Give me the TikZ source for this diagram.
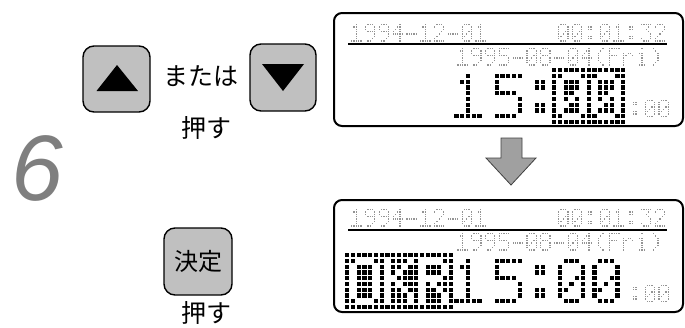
\documentclass[tikz,border=0pt]{standalone}
\usepackage{fontspec}
\setmainfont{Liberation Sans}
\newfontfamily\jp{Noto Sans CJK JP}
\definecolor{btngray}{HTML}{C0C0C0}
\definecolor{arrowgray}{HTML}{A0A0A0}
\definecolor{sixgray}{HTML}{7F7F7F}
\makeatletter
\def\dmdef#1#2{\expandafter\def\csname dmg@#1\endcsname{#2}}
\dmdef{0}{01110,10001,10001,10011,10101,11001,10001,01110}
\dmdef{1}{00100,01100,00100,00100,00100,00100,00100,11111}
\dmdef{2}{01110,10001,00001,00010,00100,01000,10000,11111}
\dmdef{3}{11111,00010,00100,00010,00001,00001,10001,01110}
\dmdef{4}{00010,00110,01010,10010,11111,00010,00010,00010}
\dmdef{5}{11111,10000,10000,11110,00001,00001,00001,11110}
\dmdef{8}{01110,10001,10001,01110,10001,10001,10001,01110}
\dmdef{9}{01110,10001,10001,01111,00001,00001,00010,01100}
\dmdef{hy}{00000,00000,00000,00000,11111,00000,00000,00000}
\dmdef{co}{00000,01100,01100,00000,00000,01100,01100,00000}
\dmdef{lp}{00010,00100,01000,01000,01000,01000,00100,00010}
\dmdef{rp}{01000,00100,00010,00010,00010,00010,00100,01000}
\dmdef{F}{11111,10000,10000,11110,10000,10000,10000,10000}
\dmdef{r}{00000,00000,10110,11001,10000,10000,10000,10000}
\dmdef{i}{00100,00000,01100,00100,00100,00100,00100,01110}
\dmdef{O}{01110,10001,10001,10001,10001,10001,10001,01110}
\dmdef{K}{10001,10010,10100,11000,10100,10010,10001,10001}
\dmdef{R}{11110,10001,10001,11110,10100,10010,10001,10001}
\dmdef{sp}{00000,00000,00000,00000,00000,00000,00000,00000}
% #1 x of col0 centre, #2 y of row0 centre, #3 pitch, #4 dot size, #5 colour, #6 list of glyphs
\newcommand\dmtext[6]{%
  \def\dm@x{#1}\def\dm@y{#2}\def\dm@p{#3}\def\dm@s{#4}\def\dm@c{#5}%
  \foreach \dm@ch [count=\dm@ci from 0] in {#6}{%
    \edef\dm@rows{\csname dmg@\dm@ch\endcsname}%
    \foreach \dm@rr [count=\dm@ri from 0] in \dm@rows {\expandafter\dm@row\dm@rr\relax}%
  }}
\def\dm@row#1#2#3#4#5\relax{\dm@bit{#1}{0}\dm@bit{#2}{1}\dm@bit{#3}{2}\dm@bit{#4}{3}\dm@bit{#5}{4}}
\def\dm@bit#1#2{\ifnum#1=1 \fill[color=\dm@c] ({\dm@x+(\dm@ci*6+#2)*\dm@p-\dm@s/2},{\dm@y+\dm@ri*\dm@p-\dm@s/2}) rectangle ++(\dm@s,\dm@s);\fi}
% full grid of dots: #1 x, #2 y, #3 cols, #4 rows, #5 pitch, #6 size
\newcommand\dmgrid[6]{%
  \foreach \dm@gi in {1,...,#3}{\foreach \dm@gj in {1,...,#4}{%
    \fill ({#1+(\dm@gi-1)*#5-#6/2},{#2+(\dm@gj-1)*#5-#6/2}) rectangle ++(#6,#6);}}}
\makeatother
\tikzset{
  btn/.style={draw=black, line width=1.4pt, fill=btngray, rounded corners=11pt, inner sep=0pt},
  lcd/.style={draw=black, line width=2pt, rounded corners=8pt, inner sep=0pt},
  jptext/.style={font=\jp\fontsize{25}{25}\selectfont, inner sep=0pt},
  bigarrow/.style={fill=arrowgray, draw=black!75, line width=0.8pt, line join=miter},
}
\begin{document}
\begin{tikzpicture}[x=1pt,y=-1pt]
\useasboundingbox (0,0) rectangle (685,327);
% left side
\node[btn, minimum width=67pt, minimum height=66pt] (up) at (116.5,79) {};
\fill ([shift={(-20,12)}]up.center) -- ([shift={(21.5,12)}]up.center) -- ([shift={(0.5,-14)}]up.center) -- cycle;
\node[jptext] (mataha) at (201,76) {または};
\node[btn, minimum width=66pt, minimum height=67pt] (down) at (283,77.5) {};
\fill ([shift={(-21,-13.5)}]down.center) -- ([shift={(21,-13.5)}]down.center) -- ([shift={(0,13.5)}]down.center) -- cycle;
\node[jptext] (osu1) at (206,128) {押す};
\node[font=\fontsize{93}{93}\selectfont\itshape, text=sixgray, inner sep=0pt] (six) at (37.5,168) {6};
\node[btn, minimum width=68pt, minimum height=67pt, font=\jp\fontsize{24}{24}\selectfont] (kettei) at (198,261.5) {決定};
\node[jptext] (osu2) at (206,313) {押す};
% LCD boxes
\node[lcd, minimum width=349pt, minimum height=113pt] (lcd1) at (508.5,69.5) {};
\node[lcd, minimum width=349pt, minimum height=112pt] (lcd2) at (508.5,256) {};
% arrow
\draw[bigarrow] (501,138) -- (522,138) -- (522,158) -- (536,158) -- (511,185) -- (486,158) -- (501,158) -- cycle;
% ---- top display
\dmtext{351.8}{24.8}{2.3}{1.3}{black!42}{1,9,9,4,hy,1,2,hy,0,1,sp,sp,sp,sp,sp,0,0,co,0,1,co,3,2}
\draw[line width=2pt] (348,44) -- (667,44);
\dmtext{458}{48.8}{2.3}{1.3}{black!42}{1,9,9,5,hy,0,8,hy,0,4,lp,F,r,i,rp}
\dmtext{456.5}{76}{5.75}{4.2}{black}{1}
\dmtext{496.75}{76}{5.75}{4.2}{black}{5}
\dmtext{531.25}{76}{5.75}{4.2}{black}{co}
\dmgrid{554.25}{70.25}{13}{10}{5.75}{4.2}
\dmtext{560}{76}{5.75}{5.2}{white}{0,0}
\dmtext{631.4}{100.2}{2.3}{1.3}{black!42}{co,0,0}
% ---- bottom display
\dmtext{351.8}{209.8}{2.3}{1.3}{black!42}{1,9,9,4,hy,1,2,hy,0,1,sp,sp,sp,sp,sp,0,0,co,0,1,co,3,2}
\draw[line width=2pt] (348,229.5) -- (667,229.5);
\dmtext{458}{233.8}{2.3}{1.3}{black!42}{1,9,9,5,hy,0,8,hy,0,4,lp,F,r,i,rp}
\dmgrid{347.25}{255.25}{19}{10}{5.75}{4.2}
\dmtext{353}{261}{5.75}{5.2}{white}{O,K,R}
\dmtext{456.5}{261}{5.75}{4.2}{black}{1}
\dmtext{496.75}{261}{5.75}{4.2}{black}{5}
\dmtext{531.25}{261}{5.75}{4.2}{black}{co}
\dmtext{560}{261}{5.75}{4.2}{black}{0,0}
\dmtext{631.4}{285.2}{2.3}{1.3}{black!42}{co,0,0}
\end{tikzpicture}
\end{document}
